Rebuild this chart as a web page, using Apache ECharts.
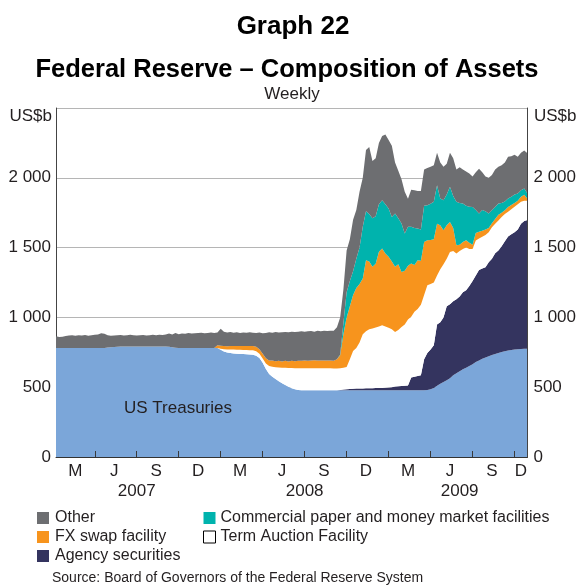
<!DOCTYPE html>
<html>
<head>
<meta charset="utf-8">
<title>Graph 22 - Federal Reserve Composition of Assets</title>
<script src="https://cdn.jsdelivr.net/npm/echarts@6/dist/echarts.min.js"></script>
</head>
<body style="margin:0;background:#fff">
<div id="main" style="width:579px;height:585px"></div>
<script>
// weekly observations (Wednesdays), first week and number of weeks
var weekStart = '2007-01-10';
var weekCount = 147;

// quarter boundaries (ticks), quarter labels and year labels
var tickDates = ['2007-04-01', '2007-07-01', '2007-10-01', '2008-01-01', '2008-04-01', '2008-07-01',
  '2008-10-01', '2009-01-01', '2009-04-01', '2009-07-01', '2009-10-01'];
var quarterLabelDates = ['2007-02-21', '2007-05-16', '2007-08-15', '2007-11-14', '2008-02-13', '2008-05-14',
  '2008-08-13', '2008-11-12', '2009-02-11', '2009-05-13', '2009-08-12', '2009-10-14'];
var quarterLabels = ['M', 'J', 'S', 'D', 'M', 'J', 'S', 'D', 'M', 'J', 'S', 'D'];
var yearLabelDates = ['2007-07-04', '2008-07-02', '2009-06-03'];
var yearLabels = ['2007', '2008', '2009'];

// US$b, weekly
var treasuries = [
  781, 781, 781, 781, 781, 781, 781, 781, 781, 781, 781, 781, 781, 781, 781, 781,
  784, 786, 788, 790, 791,
  792, 792, 792, 792, 792, 792, 792, 792, 792, 792, 792, 792, 792,
  791, 789, 786, 783,
  780, 780, 780, 780, 780, 780, 780, 780, 780, 780, 780, 780, 780,
  768, 756, 748, 745, 742, 740, 738, 737, 736, 735, 733, 725, 710, 675, 630,
  595, 575, 558, 543, 528, 515, 503, 492, 485, 480,
  478, 478, 478, 478, 478, 478, 478, 478, 478, 478, 478, 478, 478, 478, 478, 478, 478, 478, 478,
  478, 478, 478, 478, 478, 478, 478, 478, 478, 478, 478, 478, 478, 478, 478, 478, 478, 478, 478,
  478, 480, 485, 495, 510, 525, 538, 550, 565, 585, 600, 615, 628, 640, 652, 665, 680,
  692, 703, 713, 722, 730, 738, 745, 752, 758, 763, 767, 770, 772, 774, 775, 776
];
var agency = [
  0, 0, 0, 0, 0, 0, 0, 0, 0, 0, 0, 0, 0, 0, 0, 0, 0, 0, 0, 0, 0, 0,
  0, 0, 0, 0, 0, 0, 0, 0, 0, 0, 0, 0, 0, 0, 0, 0, 0, 0, 0, 0, 0, 0,
  0, 0, 0, 0, 0, 0, 0, 0, 0, 0, 0, 0, 0, 0, 0, 0, 0, 0, 0, 0, 0, 0,
  0, 0, 0, 0, 0, 0, 0, 0, 0, 0, 0, 0, 0, 0, 0, 0, 0, 0, 0, 0, 0, 0,
  2, 6, 8, 10, 11, 12, 12, 13, 14, 15, 15, 16, 16, 17, 18, 19, 22, 27, 29, 30, 32, 34,
  92, 97, 102, 108, 222, 265, 285, 305, 440, 440, 462, 530, 530, 530, 530, 535, 552, 555,
  573, 595, 620, 648, 647, 647, 673, 690, 722, 735, 758, 787, 817, 828, 840, 858, 896, 915, 921
];
var taf = [
  0, 0, 0, 0, 0, 0, 0, 0, 0, 0, 0, 0, 0, 0, 0, 0, 0, 0, 0, 0, 0, 0, 0, 0, 0, 0,
  0, 0, 0, 0, 0, 0, 0, 0, 0, 0, 0, 0, 0, 0, 0, 0, 0, 0, 0, 0, 0, 0, 0, 0, 0,
  7, 16, 22, 25, 28, 28, 30, 29, 30, 30, 32, 33, 30, 30, 40, 57, 71, 85, 98, 112, 124, 135, 145, 151, 156,
  157, 157, 157, 157, 157, 157, 157, 157, 157, 157,
  156, 156, 155, 156, 159, 212, 271, 290, 330, 389, 408, 422, 427, 434, 441,
  449, 439, 428, 415, 391, 403, 424, 440, 473, 435, 465, 480, 504, 460, 486,
  470, 450, 350, 380, 380, 340, 374, 360, 327, 325, 310, 305, 265, 230, 250,
  225, 228, 230, 215, 225, 210, 215, 210, 195, 176, 180, 182, 180, 158, 145, 138
];
var fxSwaps = [
  0, 0, 0, 0, 0, 0, 0, 0, 0, 0, 0, 0, 0, 0, 0, 0, 0, 0, 0, 0, 0, 0, 0, 0, 0,
  0, 0, 0, 0, 0, 0, 0, 0, 0, 0, 0, 0, 0, 0, 0, 0, 0, 0, 0, 0, 0, 0, 0, 0, 0,
  20, 22, 24, 24, 25, 26, 28, 28, 30, 30, 30, 30, 32, 32, 35, 38, 40, 45, 42, 48,
  44, 50, 46, 52, 50, 54, 55, 56, 55, 56, 58, 56, 57, 56, 57, 56,
  56, 66, 94, 240, 355, 380, 400, 430, 420, 399, 510, 485, 442, 457, 535,
  550, 523, 509, 485, 466, 470, 394, 385, 385, 381, 335, 350, 315, 380, 322,
  315, 310, 370, 315, 245, 240, 215, 165, 60, 45, 50, 53, 45, 30, 55,
  48, 42, 40, 30, 30, 35, 40, 30, 28, 34, 31, 28, 25, 37, 43, 15
];
var commercialPaper = [
  0, 0, 0, 0, 0, 0, 0, 0, 0, 0, 0, 0, 0, 0, 0, 0, 0, 0, 0, 0, 0, 0,
  0, 0, 0, 0, 0, 0, 0, 0, 0, 0, 0, 0, 0, 0, 0, 0, 0, 0, 0, 0, 0, 0,
  0, 0, 0, 0, 0, 0, 0, 0, 0, 0, 0, 0, 0, 0, 0, 0, 0, 0, 0, 0, 0, 0,
  0, 0, 0, 0, 0, 0, 0, 0, 0, 0, 0, 0, 0, 0, 0, 0, 0, 0, 0, 0, 0, 0,
  6, 80, 180, 180, 170, 210, 260, 371, 350, 340, 348, 340, 340, 346, 352,
  346, 320, 382, 330, 347, 266, 279, 263, 265, 227, 225, 260, 251, 260, 268,
  277, 192, 215, 220, 251, 230, 311, 300, 276, 247, 257, 270, 165, 131, 150,
  130, 104, 93, 85, 81, 70, 62, 62, 58, 60, 53, 45, 46, 38
];
var other = [
  84, 79, 81, 85, 89, 91, 87, 91, 89, 93, 87, 91, 95, 97, 105, 101,
  88, 82, 82, 82, 83, 78, 80, 83, 81, 78, 80, 82, 78, 80, 83, 80, 84, 82,
  87, 96, 92, 105, 100, 105, 102, 108, 105, 106, 108, 110, 107, 109, 112, 108,
  92, 121, 102, 98, 100, 94, 97, 92, 96, 94, 98, 95, 98, 120, 146, 180, 201, 199, 210, 203,
  210, 207, 209, 209, 209, 208, 210, 206, 210, 211, 205, 213, 208, 214, 210, 214,
  215, 230, 265, 240, 300, 300, 370, 350, 400, 350, 440, 480, 410, 415, 440,
  460, 500, 490, 510, 366, 340, 317, 299, 201, 266, 270, 268, 275, 260, 266,
  265, 262, 233, 258, 240, 220, 245, 270, 232, 255, 244, 245, 238, 220, 270,
  321, 270, 250, 256, 252, 270, 264, 270, 280, 298, 291, 285, 262, 270, 271, 287
];

var DAY = 864e5;
function weekIndex(d) {
  return Math.round((Date.parse(d) - Date.parse(weekStart)) / (7 * DAY));
}
var weeks = [];
for (var i = 0; i < weekCount; i++) {
  weeks.push(new Date(Date.parse(weekStart) + i * 7 * DAY).toISOString().slice(0, 10));
}
var tickIdx = tickDates.map(weekIndex);
var quarterIdx = quarterLabelDates.map(weekIndex);
var yearIdx = yearLabelDates.map(weekIndex);

function fmtNum(v) {
  if (v >= 2500) return '';
  if (v >= 1000) return Math.floor(v / 1000) + ' ' + String(v % 1000).padStart(3, '0');
  return String(v);
}

var FONT = '"Liberation Sans", Arial, Helvetica, sans-serif';
var TXT = '#231f20';

function areaSeries(name, color, data) {
  return {
    name: name,
    type: 'line',
    stack: 'assets',
    data: data,
    symbol: 'none',
    showSymbol: false,
    lineStyle: { width: 0 },
    itemStyle: { color: color },
    areaStyle: { color: color, opacity: 1 },
    emphasis: { disabled: true }
  };
}

var chart = echarts.init(document.getElementById('main'));
chart.setOption({
  animation: false,
  textStyle: { fontFamily: FONT },
  grid: { left: 56, right: 51, top: 108, bottom: 128, containLabel: false },
  xAxis: [
    {
      type: 'category',
      data: weeks,
      boundaryGap: false,
      z: 10,  // ticks sit inside the plot, keep them above the areas
      axisLine: { lineStyle: { color: '#333', width: 1 } },
      axisTick: {
        inside: true, length: 6,
        interval: function (i) { return tickIdx.indexOf(i) >= 0; },
        lineStyle: { color: '#3a3a3a', width: 1 }
      },
      axisLabel: {
        interval: function (i) { return quarterIdx.indexOf(i) >= 0; },
        formatter: function (v, i) { return quarterLabels[quarterIdx.indexOf(i)]; },
        color: TXT, fontSize: 17, margin: 6, fontFamily: FONT
      },
      splitLine: { show: false }
    },
    {
      type: 'category',
      data: weeks,
      boundaryGap: false,
      position: 'bottom',
      offset: 20,
      axisLine: { show: false },
      axisTick: { show: false },
      axisLabel: {
        interval: function (i) { return yearIdx.indexOf(i) >= 0; },
        formatter: function (v, i) { return yearLabels[yearIdx.indexOf(i)]; },
        color: TXT, fontSize: 17, margin: 6, fontFamily: FONT
      },
      splitLine: { show: false }
    }
  ],
  yAxis: [
    {
      type: 'value', min: 0, max: 2500, interval: 500, position: 'left',
      axisLine: { show: true, lineStyle: { color: '#444' } },
      axisTick: { show: false },
      splitLine: { lineStyle: { color: '#b5b5b5', width: 1 } },
      axisLabel: { formatter: fmtNum, color: TXT, fontSize: 17, margin: 5, fontFamily: FONT }
    },
    {
      type: 'value', min: 0, max: 2500, interval: 500, position: 'right',
      z: 10,
      axisLine: { show: true, lineStyle: { color: '#444' } },
      axisTick: { show: false },
      splitLine: { show: false },
      axisLabel: { formatter: fmtNum, color: TXT, fontSize: 17, margin: 6, fontFamily: FONT }
    }
  ],
  legend: [
    {
      left: 37, top: 510, orient: 'vertical', icon: 'rect',
      itemWidth: 12, itemHeight: 12, itemGap: 3, padding: 0,
      selectedMode: false,
      textStyle: { color: TXT, fontSize: 16, fontFamily: FONT, padding: [0, 0, 0, 1] },
      data: ['Other', 'FX swap facility', 'Agency securities']
    },
    {
      left: 203, top: 510, orient: 'vertical', icon: 'rect',
      itemWidth: 12, itemHeight: 12, itemGap: 3, padding: 0,
      selectedMode: false,
      textStyle: { color: TXT, fontSize: 16, fontFamily: FONT, padding: [0, 0, 0, 0] },
      data: [
        'Commercial paper and money market facilities',
        { name: 'Term Auction Facility', itemStyle: { color: '#fff', borderColor: '#000', borderWidth: 1 } }
      ]
    }
  ],
  graphic: [
    { type: 'text', x: 293, y: 27, style: { text: 'Graph 22', fill: '#000', font: 'bold 26px ' + FONT, align: 'center', verticalAlign: 'middle' } },
    { type: 'text', x: 287, y: 70, style: { text: 'Federal Reserve \u2013 Composition of Assets', fill: '#000', font: 'bold 25.5px ' + FONT, align: 'center', verticalAlign: 'middle' } },
    { type: 'text', x: 292, y: 94, style: { text: 'Weekly', fill: TXT, font: '17px ' + FONT, align: 'center', verticalAlign: 'middle' } },
    { type: 'text', x: 52, y: 116, style: { text: 'US$b', fill: TXT, font: '17px ' + FONT, align: 'right', verticalAlign: 'middle' } },
    { type: 'text', x: 534, y: 116, style: { text: 'US$b', fill: TXT, font: '17px ' + FONT, align: 'left', verticalAlign: 'middle' } },
    { type: 'text', x: 124, y: 408, z: 10, style: { text: 'US Treasuries', fill: TXT, font: '17px ' + FONT, align: 'left', verticalAlign: 'middle' } },
    { type: 'text', x: 52, y: 578, style: { text: 'Source: Board of Governors of the Federal Reserve System', fill: TXT, font: '14px ' + FONT, align: 'left', verticalAlign: 'middle' } }
  ],
  series: [
    areaSeries('US Treasuries', '#7ba6d9', treasuries),
    areaSeries('Agency securities', '#34345f', agency),
    areaSeries('Term Auction Facility', '#ffffff', taf),
    areaSeries('FX swap facility', '#f7941d', fxSwaps),
    areaSeries('Commercial paper and money market facilities', '#00b3ad', commercialPaper),
    areaSeries('Other', '#6d6e71', other)
  ]
});
</script>
</body>
</html>
